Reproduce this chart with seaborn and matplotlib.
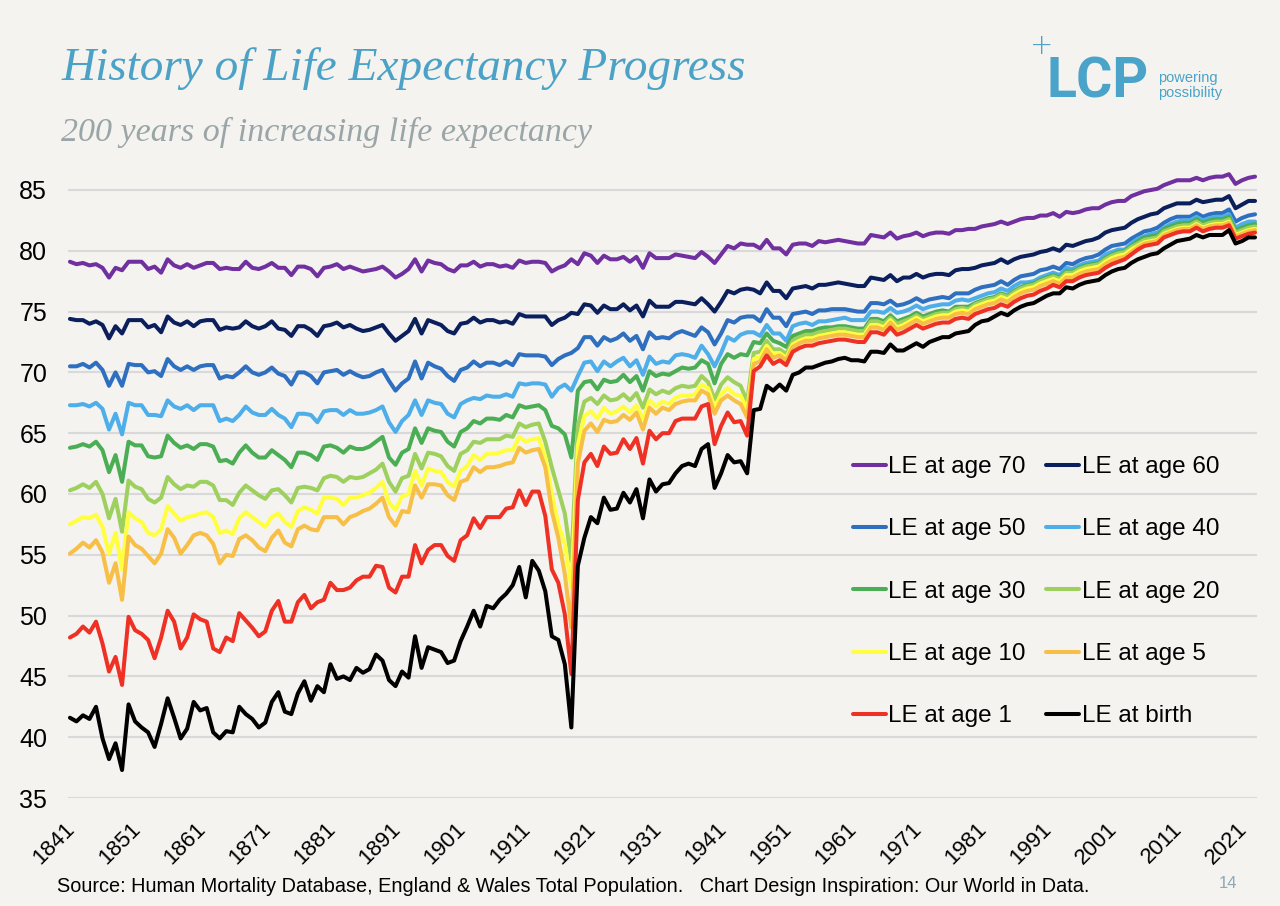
import pandas as pd
import seaborn as sns
import matplotlib.pyplot as plt
import matplotlib.transforms as mtransforms

# England & Wales period life expectancy (age + remaining years), 1841-2023
years = list(range(1841, 2024))

le_70 = [
    79.1, 78.9, 79.0, 78.8, 78.9, 78.6, 77.8, 78.6, 78.4, 79.1,
    79.1, 79.1, 78.5, 78.7, 78.2, 79.3, 78.8, 78.6, 78.9, 78.6,
    78.8, 79.0, 79.0, 78.5, 78.6, 78.5, 78.5, 79.1, 78.6, 78.5,
    78.7, 79.0, 78.6, 78.6, 78.0, 78.7, 78.7, 78.5, 77.9, 78.6,
    78.7, 78.9, 78.5, 78.7, 78.5, 78.3, 78.4, 78.5, 78.7, 78.3,
    77.8, 78.1, 78.5, 79.3, 78.3, 79.2, 79.0, 78.9, 78.5, 78.3,
    78.8, 78.8, 79.1, 78.7, 78.9, 78.9, 78.7, 78.8, 78.6, 79.2,
    79.0, 79.1, 79.1, 79.0, 78.3, 78.6, 78.8, 79.3, 78.9, 79.8,
    79.6, 79.0, 79.6, 79.3, 79.3, 79.5, 79.1, 79.5, 78.6, 79.8,
    79.4, 79.4, 79.4, 79.7, 79.6, 79.5, 79.4, 79.9, 79.5, 79.0,
    79.7, 80.4, 80.2, 80.6, 80.5, 80.5, 80.2, 80.9, 80.2, 80.2,
    79.7, 80.5, 80.6, 80.6, 80.4, 80.8, 80.7, 80.8, 80.9, 80.8,
    80.7, 80.6, 80.6, 81.3, 81.2, 81.1, 81.5, 81.0, 81.2, 81.3,
    81.5, 81.2, 81.4, 81.5, 81.5, 81.4, 81.7, 81.7, 81.8, 81.8,
    82.0, 82.1, 82.2, 82.4, 82.2, 82.4, 82.6, 82.7, 82.7, 82.9,
    82.9, 83.1, 82.8, 83.2, 83.1, 83.2, 83.4, 83.5, 83.5, 83.8,
    84.0, 84.1, 84.1, 84.5, 84.7, 84.9, 85.0, 85.1, 85.4, 85.6,
    85.8, 85.8, 85.8, 86.0, 85.8, 86.0, 86.1, 86.1, 86.3, 85.5,
    85.8, 86.0, 86.1]

le_60 = [
    74.4, 74.3, 74.3, 74.0, 74.2, 73.9, 72.8, 73.8, 73.2, 74.3,
    74.3, 74.3, 73.7, 73.9, 73.3, 74.6, 74.1, 73.9, 74.2, 73.8,
    74.2, 74.3, 74.3, 73.5, 73.7, 73.6, 73.7, 74.2, 73.8, 73.6,
    73.8, 74.2, 73.6, 73.5, 73.0, 73.8, 73.8, 73.5, 73.0, 73.8,
    73.9, 74.1, 73.7, 73.9, 73.6, 73.4, 73.5, 73.7, 73.9, 73.2,
    72.6, 73.0, 73.4, 74.4, 73.2, 74.3, 74.1, 73.9, 73.4, 73.2,
    74.0, 74.1, 74.5, 74.1, 74.3, 74.3, 74.1, 74.2, 74.0, 74.8,
    74.6, 74.6, 74.6, 74.6, 73.9, 74.3, 74.5, 74.9, 74.8, 75.6,
    75.5, 74.9, 75.5, 75.2, 75.2, 75.6, 75.1, 75.5, 74.6, 75.9,
    75.4, 75.4, 75.4, 75.8, 75.8, 75.7, 75.6, 76.1, 75.6, 75.0,
    75.8, 76.7, 76.5, 76.8, 76.9, 76.8, 76.5, 77.4, 76.7, 76.7,
    76.1, 76.9, 77.0, 77.1, 76.9, 77.2, 77.2, 77.3, 77.4, 77.3,
    77.2, 77.1, 77.1, 77.8, 77.7, 77.6, 78.0, 77.5, 77.8, 77.8,
    78.1, 77.8, 78.0, 78.1, 78.1, 78.0, 78.4, 78.5, 78.5, 78.6,
    78.8, 78.9, 79.0, 79.3, 79.0, 79.3, 79.5, 79.6, 79.7, 79.9,
    80.0, 80.2, 80.0, 80.5, 80.4, 80.6, 80.8, 80.9, 81.1, 81.5,
    81.7, 81.8, 81.9, 82.3, 82.6, 82.8, 83.0, 83.1, 83.5, 83.7,
    83.9, 83.9, 83.9, 84.2, 84.0, 84.1, 84.2, 84.2, 84.5, 83.5,
    83.8, 84.1, 84.1]

le_50 = [
    70.5, 70.5, 70.7, 70.4, 70.8, 70.2, 68.9, 70.0, 68.9, 70.7,
    70.6, 70.6, 70.0, 70.1, 69.7, 71.1, 70.5, 70.2, 70.5, 70.2,
    70.5, 70.6, 70.6, 69.5, 69.7, 69.6, 70.0, 70.5, 70.0, 69.8,
    70.0, 70.4, 69.9, 69.7, 69.0, 70.0, 70.0, 69.7, 69.1, 70.0,
    70.1, 70.2, 69.8, 70.1, 69.8, 69.6, 69.7, 70.0, 70.2, 69.3,
    68.5, 69.1, 69.5, 70.9, 69.5, 70.8, 70.5, 70.3, 69.7, 69.3,
    70.2, 70.4, 70.9, 70.5, 70.8, 70.8, 70.6, 70.9, 70.6, 71.5,
    71.4, 71.4, 71.4, 71.3, 70.6, 71.1, 71.4, 71.6, 72.0, 72.9,
    72.9, 72.2, 72.9, 72.6, 72.8, 73.2, 72.6, 73.0, 71.9, 73.3,
    72.8, 72.9, 72.8, 73.2, 73.4, 73.2, 73.0, 73.7, 73.3, 72.3,
    73.2, 74.3, 74.1, 74.5, 74.6, 74.6, 74.2, 75.2, 74.5, 74.5,
    73.8, 74.8, 74.9, 75.0, 74.8, 75.1, 75.1, 75.2, 75.2, 75.2,
    75.1, 75.0, 75.0, 75.7, 75.7, 75.6, 75.9, 75.5, 75.6, 75.8,
    76.1, 75.8, 76.0, 76.1, 76.2, 76.1, 76.5, 76.5, 76.5, 76.8,
    77.0, 77.1, 77.2, 77.5, 77.2, 77.6, 77.9, 78.0, 78.1, 78.4,
    78.5, 78.7, 78.5, 79.0, 78.9, 79.2, 79.4, 79.5, 79.7, 80.1,
    80.4, 80.5, 80.6, 81.0, 81.3, 81.6, 81.7, 81.9, 82.3, 82.6,
    82.8, 82.8, 82.8, 83.1, 82.8, 83.0, 83.1, 83.1, 83.4, 82.4,
    82.7, 82.9, 83.0]

le_40 = [
    67.3, 67.3, 67.4, 67.2, 67.5, 67.0, 65.3, 66.6, 64.9, 67.5,
    67.3, 67.3, 66.5, 66.5, 66.4, 67.7, 67.2, 67.0, 67.3, 66.9,
    67.3, 67.3, 67.3, 66.0, 66.2, 66.0, 66.5, 67.2, 66.7, 66.5,
    66.5, 67.0, 66.5, 66.2, 65.5, 66.6, 66.6, 66.5, 65.9, 66.8,
    66.9, 66.9, 66.5, 66.9, 66.6, 66.6, 66.7, 66.9, 67.2, 65.9,
    65.1, 66.0, 66.5, 67.7, 66.5, 67.7, 67.5, 67.4, 66.6, 66.3,
    67.4, 67.7, 67.9, 67.8, 68.1, 68.0, 68.0, 68.2, 68.0, 69.1,
    69.0, 69.1, 69.1, 69.0, 68.0, 68.7, 69.0, 68.5, 69.7, 70.8,
    70.9, 70.1, 70.9, 70.5, 70.9, 71.2, 70.5, 71.0, 69.8, 71.3,
    70.7, 70.9, 70.8, 71.4, 71.5, 71.4, 71.2, 72.2, 71.5, 70.5,
    71.6, 72.9, 72.6, 73.1, 73.3, 73.3, 73.0, 73.9, 73.2, 73.2,
    72.6, 73.8, 74.0, 74.1, 73.9, 74.2, 74.2, 74.3, 74.4, 74.5,
    74.3, 74.3, 74.3, 75.0, 75.0, 74.9, 75.3, 74.9, 75.0, 75.2,
    75.5, 75.2, 75.4, 75.5, 75.6, 75.6, 75.9, 76.0, 75.9, 76.1,
    76.3, 76.5, 76.6, 76.9, 76.7, 77.1, 77.4, 77.4, 77.5, 77.8,
    78.0, 78.2, 78.0, 78.6, 78.5, 78.8, 79.0, 79.1, 79.2, 79.7,
    79.9, 80.1, 80.1, 80.6, 81.0, 81.2, 81.4, 81.5, 81.9, 82.2,
    82.4, 82.5, 82.5, 82.8, 82.5, 82.7, 82.8, 82.8, 83.0, 81.9,
    82.2, 82.4, 82.4]

le_30 = [
    63.8, 63.9, 64.1, 63.9, 64.3, 63.6, 61.8, 63.2, 61.0, 64.3,
    64.0, 64.0, 63.1, 63.0, 63.1, 64.8, 64.2, 63.8, 64.0, 63.7,
    64.1, 64.1, 63.9, 62.7, 62.8, 62.5, 63.4, 64.0, 63.4, 63.0,
    63.0, 63.6, 63.2, 62.8, 62.2, 63.4, 63.4, 63.2, 62.8, 63.9,
    64.0, 63.8, 63.4, 63.9, 63.7, 63.7, 63.9, 64.3, 64.7, 63.0,
    62.4, 63.4, 63.7, 65.4, 64.2, 65.4, 65.2, 65.1, 64.3, 63.9,
    65.1, 65.4, 66.0, 65.8, 66.2, 66.2, 66.1, 66.5, 66.3, 67.3,
    67.1, 67.2, 67.3, 66.9, 65.6, 65.4, 64.9, 63.0, 68.5, 69.2,
    69.3, 68.6, 69.4, 69.2, 69.3, 69.8, 69.2, 69.7, 68.5, 70.1,
    69.7, 69.9, 69.8, 70.1, 70.4, 70.3, 70.4, 71.0, 70.7, 69.1,
    70.7, 71.5, 71.2, 71.5, 71.4, 72.5, 72.4, 73.2, 72.6, 72.4,
    72.1, 73.0, 73.2, 73.4, 73.4, 73.6, 73.7, 73.7, 73.8, 73.8,
    73.7, 73.6, 73.6, 74.4, 74.4, 74.2, 74.7, 74.2, 74.4, 74.6,
    74.9, 74.6, 74.8, 75.0, 75.1, 75.0, 75.4, 75.4, 75.4, 75.7,
    75.9, 76.1, 76.2, 76.5, 76.3, 76.7, 77.0, 77.2, 77.3, 77.6,
    77.8, 78.0, 77.8, 78.3, 78.3, 78.6, 78.8, 78.9, 79.0, 79.4,
    79.7, 79.9, 80.0, 80.4, 80.8, 81.1, 81.2, 81.3, 81.8, 82.0,
    82.2, 82.3, 82.3, 82.6, 82.3, 82.5, 82.6, 82.6, 82.8, 81.7,
    81.9, 82.1, 82.2]

le_20 = [
    60.3, 60.5, 60.8, 60.5, 61.0, 60.0, 58.0, 59.6, 56.9, 61.1,
    60.6, 60.4, 59.6, 59.3, 59.7, 61.4, 60.8, 60.4, 60.7, 60.6,
    61.0, 61.0, 60.7, 59.5, 59.5, 59.1, 60.1, 60.7, 60.3, 59.9,
    59.6, 60.3, 60.4, 59.9, 59.3, 60.5, 60.6, 60.5, 60.3, 61.3,
    61.5, 61.4, 61.0, 61.4, 61.3, 61.4, 61.7, 62.0, 62.5, 61.0,
    60.2, 61.3, 61.5, 63.3, 62.1, 63.4, 63.3, 63.1, 62.3, 61.9,
    63.3, 63.6, 64.3, 64.2, 64.5, 64.5, 64.5, 64.8, 64.7, 65.8,
    65.5, 65.7, 65.8, 64.3, 62.2, 60.3, 58.4, 54.5, 65.6, 67.6,
    67.9, 67.4, 68.1, 67.7, 67.8, 68.2, 67.7, 68.3, 67.1, 68.6,
    68.2, 68.5, 68.3, 68.7, 68.9, 68.8, 68.9, 69.7, 69.2, 67.8,
    69.0, 69.6, 69.2, 68.9, 67.6, 71.6, 71.7, 72.6, 71.9, 71.9,
    71.5, 72.6, 72.9, 73.1, 73.1, 73.3, 73.4, 73.5, 73.6, 73.6,
    73.5, 73.4, 73.4, 74.2, 74.2, 74.0, 74.5, 74.0, 74.2, 74.4,
    74.7, 74.4, 74.6, 74.8, 74.9, 74.9, 75.2, 75.3, 75.2, 75.6,
    75.8, 76.0, 76.1, 76.4, 76.2, 76.6, 76.9, 77.1, 77.2, 77.5,
    77.7, 77.9, 77.7, 78.2, 78.2, 78.5, 78.7, 78.8, 78.9, 79.3,
    79.6, 79.8, 79.9, 80.3, 80.6, 80.9, 81.0, 81.1, 81.6, 81.8,
    82.0, 82.1, 82.1, 82.4, 82.1, 82.3, 82.4, 82.4, 82.6, 81.5,
    81.7, 81.9, 82.0]

le_10 = [
    57.5, 57.8, 58.1, 58.0, 58.3, 57.3, 55.1, 56.8, 53.8, 58.5,
    58.0, 57.7, 56.8, 56.6, 57.1, 59.0, 58.4, 57.8, 58.1, 58.2,
    58.4, 58.5, 58.1, 56.8, 57.0, 56.7, 58.0, 58.5, 58.1, 57.7,
    57.3, 58.1, 58.4, 57.7, 57.3, 58.6, 58.9, 58.7, 58.4, 59.7,
    59.7, 59.6, 59.1, 59.7, 59.7, 59.9, 60.1, 60.5, 61.0, 59.3,
    58.7, 59.8, 60.0, 61.9, 60.7, 62.1, 61.9, 61.8, 61.0, 60.6,
    61.9, 62.3, 63.2, 62.8, 63.3, 63.3, 63.4, 63.6, 63.6, 64.7,
    64.3, 64.5, 64.6, 63.0, 60.0, 57.5, 55.9, 52.3, 64.0, 66.4,
    66.8, 66.2, 67.1, 66.6, 66.8, 67.2, 66.7, 67.3, 66.1, 67.7,
    67.2, 67.6, 67.4, 67.9, 68.1, 68.1, 68.2, 69.0, 68.7, 67.1,
    68.2, 68.7, 68.2, 68.1, 66.9, 71.1, 71.3, 72.2, 71.5, 71.6,
    71.2, 72.3, 72.6, 72.8, 72.8, 73.0, 73.1, 73.2, 73.3, 73.3,
    73.2, 73.1, 73.1, 73.9, 73.9, 73.7, 74.3, 73.7, 73.9, 74.2,
    74.5, 74.2, 74.4, 74.6, 74.7, 74.7, 75.0, 75.1, 75.0, 75.4,
    75.6, 75.8, 75.9, 76.2, 76.0, 76.4, 76.7, 76.9, 77.0, 77.3,
    77.5, 77.7, 77.5, 78.0, 78.0, 78.3, 78.5, 78.6, 78.7, 79.1,
    79.4, 79.6, 79.7, 80.1, 80.4, 80.7, 80.8, 80.9, 81.4, 81.6,
    81.8, 81.9, 81.9, 82.2, 81.9, 82.1, 82.2, 82.2, 82.4, 81.3,
    81.5, 81.7, 81.8]

le_5 = [
    55.1, 55.5, 56.0, 55.6, 56.2, 55.2, 52.7, 54.3, 51.3, 56.5,
    55.8, 55.5, 54.9, 54.3, 55.1, 57.1, 56.4, 55.1, 55.8, 56.6,
    56.8, 56.6, 55.9, 54.3, 55.0, 54.9, 56.3, 56.6, 56.2, 55.6,
    55.3, 56.4, 57.0, 56.0, 55.7, 57.1, 57.4, 57.1, 57.0, 58.1,
    58.1, 58.1, 57.5, 58.1, 58.3, 58.6, 58.8, 59.2, 59.7, 58.1,
    57.4, 58.6, 58.5, 60.7, 59.7, 60.8, 60.8, 60.7, 59.9, 59.5,
    61.0, 61.2, 62.2, 61.8, 62.2, 62.2, 62.3, 62.5, 62.6, 63.8,
    63.4, 63.6, 63.7, 62.2, 58.6, 56.4, 53.4, 49.0, 62.5, 65.2,
    65.8, 65.1, 66.1, 65.9, 66.0, 66.5, 66.1, 66.7, 65.3, 67.1,
    66.6, 67.1, 66.9, 67.4, 67.6, 67.7, 67.7, 68.5, 68.2, 66.6,
    67.7, 68.1, 67.7, 67.4, 66.3, 70.7, 70.9, 71.9, 71.2, 71.4,
    71.0, 72.1, 72.4, 72.6, 72.6, 72.8, 72.9, 73.0, 73.1, 73.1,
    73.0, 72.9, 72.9, 73.7, 73.7, 73.5, 74.1, 73.5, 73.7, 74.0,
    74.3, 74.0, 74.2, 74.4, 74.5, 74.5, 74.8, 74.9, 74.8, 75.2,
    75.4, 75.6, 75.7, 76.0, 75.8, 76.2, 76.5, 76.7, 76.8, 77.1,
    77.3, 77.5, 77.3, 77.8, 77.8, 78.1, 78.3, 78.4, 78.5, 78.9,
    79.2, 79.4, 79.5, 79.9, 80.3, 80.6, 80.7, 80.8, 81.3, 81.5,
    81.7, 81.8, 81.8, 82.1, 81.8, 82.0, 82.1, 82.1, 82.3, 81.2,
    81.4, 81.6, 81.7]

le_1 = [
    48.2, 48.5, 49.1, 48.6, 49.5, 47.7, 45.4, 46.6, 44.3, 49.9,
    48.8, 48.5, 48.0, 46.5, 48.2, 50.4, 49.5, 47.3, 48.2, 50.1,
    49.7, 49.5, 47.3, 47.0, 48.2, 47.9, 50.2, 49.6, 49.0, 48.3,
    48.7, 50.4, 51.2, 49.5, 49.5, 51.1, 51.7, 50.6, 51.1, 51.3,
    52.7, 52.1, 52.1, 52.3, 52.9, 53.2, 53.2, 54.1, 54.0, 52.3,
    51.9, 53.2, 53.2, 55.8, 54.3, 55.4, 55.8, 55.8, 54.9, 54.5,
    56.2, 56.6, 58.0, 57.2, 58.1, 58.1, 58.1, 58.8, 58.9, 60.3,
    59.1, 60.2, 60.2, 58.2, 53.8, 52.7, 50.1, 45.2, 59.5, 62.6,
    63.3, 62.3, 63.9, 63.3, 63.4, 64.5, 63.7, 64.6, 62.5, 65.2,
    64.5, 65.0, 65.0, 66.0, 66.2, 66.2, 66.2, 67.2, 67.4, 64.1,
    65.6, 66.7, 65.9, 66.0, 64.8, 70.1, 70.5, 71.4, 70.7, 71.0,
    70.6, 71.7, 72.0, 72.2, 72.2, 72.4, 72.5, 72.6, 72.7, 72.7,
    72.6, 72.5, 72.5, 73.3, 73.3, 73.1, 73.7, 73.1, 73.3, 73.6,
    73.9, 73.6, 73.8, 74.0, 74.1, 74.1, 74.4, 74.5, 74.4, 74.8,
    75.0, 75.2, 75.3, 75.6, 75.4, 75.8, 76.1, 76.3, 76.4, 76.7,
    76.9, 77.2, 77.0, 77.5, 77.5, 77.8, 78.0, 78.1, 78.2, 78.6,
    78.9, 79.1, 79.3, 79.7, 80.1, 80.4, 80.5, 80.6, 81.1, 81.3,
    81.5, 81.6, 81.6, 81.9, 81.6, 81.8, 81.9, 81.9, 82.1, 81.0,
    81.2, 81.4, 81.5]

le_birth = [
    41.6, 41.3, 41.8, 41.5, 42.5, 39.9, 38.2, 39.5, 37.3, 42.7,
    41.3, 40.8, 40.4, 39.2, 41.1, 43.2, 41.6, 39.9, 40.7, 42.9,
    42.2, 42.4, 40.4, 39.9, 40.5, 40.4, 42.5, 41.9, 41.5, 40.8,
    41.2, 42.9, 43.7, 42.1, 41.9, 43.6, 44.6, 43.0, 44.2, 43.7,
    46.0, 44.8, 45.0, 44.7, 45.7, 45.3, 45.6, 46.8, 46.3, 44.7,
    44.2, 45.4, 44.9, 48.3, 45.7, 47.4, 47.2, 47.0, 46.1, 46.3,
    47.9, 49.1, 50.4, 49.1, 50.8, 50.6, 51.3, 51.8, 52.5, 54.0,
    51.5, 54.5, 53.7, 52.0, 48.3, 48.0, 46.0, 40.8, 54.1, 56.4,
    58.1, 57.6, 59.7, 58.7, 58.8, 60.1, 59.3, 60.4, 58.0, 61.2,
    60.2, 60.8, 60.9, 61.7, 62.3, 62.5, 62.3, 63.7, 64.1, 60.5,
    61.7, 63.2, 62.6, 62.7, 61.7, 66.9, 67.0, 68.9, 68.5, 69.0,
    68.5, 69.8, 70.0, 70.4, 70.4, 70.6, 70.8, 70.9, 71.1, 71.2,
    71.0, 71.0, 70.9, 71.7, 71.7, 71.6, 72.3, 71.8, 71.8, 72.1,
    72.4, 72.1, 72.5, 72.7, 72.9, 72.9, 73.2, 73.3, 73.4, 73.9,
    74.2, 74.3, 74.6, 74.9, 74.7, 75.1, 75.4, 75.6, 75.7, 76.0,
    76.3, 76.5, 76.5, 77.0, 76.9, 77.2, 77.4, 77.5, 77.6, 78.0,
    78.3, 78.5, 78.6, 79.0, 79.3, 79.5, 79.7, 79.8, 80.2, 80.5,
    80.8, 80.9, 81.0, 81.3, 81.1, 81.3, 81.3, 81.3, 81.7, 80.6,
    80.8, 81.1, 81.1]

series_names = ["LE at age 70", "LE at age 60", "LE at age 50", "LE at age 40",
                "LE at age 30", "LE at age 20", "LE at age 10", "LE at age 5",
                "LE at age 1", "LE at birth"]
series_values = [le_70, le_60, le_50, le_40, le_30, le_20, le_10, le_5, le_1, le_birth]
series_colors = ["#7030A0", "#0B1F5C", "#2E6FC0", "#4DAEEA", "#4CAE54",
                 "#9ED05E", "#FFFF40", "#F7BF45", "#EE3124", "#000000"]

tick_years = list(range(1841, 2022, 10))

df = pd.concat([pd.DataFrame({"year": years, "le": vals, "series": name})
                for name, vals in zip(series_names, series_values)],
               ignore_index=True)

BG = "#F4F3F0"
sns.set_theme(style="white")
plt.rcParams["font.family"] = ["Liberation Sans", "DejaVu Sans"]

fig = plt.figure(figsize=(12.8, 9.06), dpi=100, facecolor=BG)
ax = fig.add_axes([68 / 1280, 108 / 906, 1189 / 1280, 638.4 / 906])
ax.set_facecolor(BG)

sns.lineplot(data=df, x="year", y="le", hue="series", hue_order=series_names,
             palette=dict(zip(series_names, series_colors)), linewidth=2.9,
             ax=ax)

handles, labels = ax.get_legend_handles_labels()
ax.get_legend().remove()
order = [0, 2, 4, 6, 8, 1, 3, 5, 7, 9]
leg = ax.legend([handles[i] for i in order], [labels[i] for i in order],
                ncol=2, loc="upper left", bbox_to_anchor=(853 / 1280, 1 - 456 / 906),
                bbox_transform=fig.transFigure, frameon=False, fontsize=17.5,
                labelcolor="black",
                handlelength=1.35, handletextpad=0.1, columnspacing=0.85,
                labelspacing=1.66, borderpad=0, borderaxespad=0)

ax.set_xlim(1840.7, 2023.3)
ax.set_ylim(35, 87.5)
ax.set_yticks(range(35, 90, 5))
ax.set_xticks(tick_years)
ax.set_xticklabels([str(y) for y in tick_years], rotation=45, ha="right",
                   va="center", rotation_mode="anchor")
ax.set_xlabel("")
ax.set_ylabel("")
ax.yaxis.grid(True, color="#D9D9D9", linewidth=1.5)
ax.xaxis.grid(False)
ax.set_axisbelow(True)
sns.despine(ax=ax, left=True, bottom=True)
ax.tick_params(axis="y", length=0, labelsize=18, pad=15, colors="black")
ax.tick_params(axis="x", length=0, labelsize=16, pad=20, colors="black")
shift = mtransforms.ScaledTranslation(2 / 100, 0, fig.dpi_scale_trans)
for lab in ax.get_xticklabels():
    lab.set_transform(lab.get_transform() + shift)

# header
fig.text(62 / 1280, 1 - 80 / 906, "History of Life Expectancy Progress",
         family="Liberation Serif", style="italic", fontsize=34, color="#4BA2C6")
fig.text(61 / 1280, 1 - 141 / 906, "200 years of increasing life expectancy",
         family="Liberation Serif", style="italic", fontsize=24.5, color="#9AA5A8")

# logo
logo = "#4AA3C8"
fig.text(1046 / 1280, 1 - 98 / 906, "LCP", family="Roboto", fontweight="bold",
         fontsize=40, color=logo)
fig.text(1042 / 1280, 1 - 46 / 906, "+", family="DejaVu Sans", fontweight="light",
         fontsize=20, color=logo, ha="center", va="center")
fig.text(1158 / 1280, 1 - 78 / 906, "powering", fontsize=10.5, color=logo, va="center")
fig.text(1158 / 1280, 1 - 93 / 906, "possibility", fontsize=10.5, color=logo, va="center")

# footer
fig.text(57 / 1280, 1 - 887 / 906,
         "Source: Human Mortality Database, England & Wales Total Population.   "
         "Chart Design Inspiration: Our World in Data.",
         fontsize=14.3, color="black", va="center")
fig.text(1228 / 1280, 1 - 884 / 906, "14", fontsize=12, color="#8EA8B6",
         ha="center", va="center")

fig.savefig("out.png", dpi=100, facecolor=BG)
